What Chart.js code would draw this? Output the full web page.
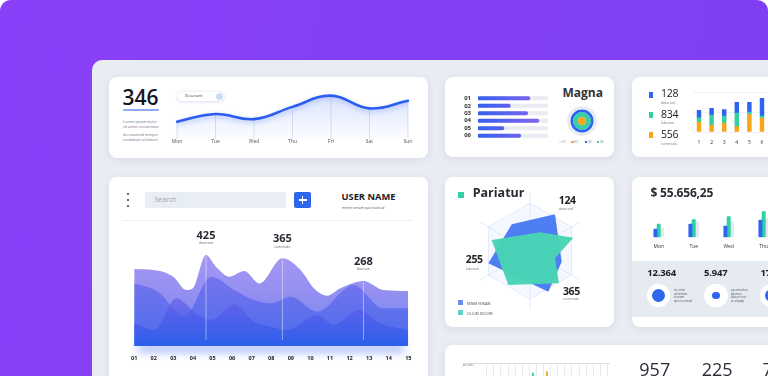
<!DOCTYPE html>
<html><head><meta charset="utf-8">
<script src="https://cdn.jsdelivr.net/npm/chart.js@4.4.1/dist/chart.umd.min.js"></script>
<style>
*{box-sizing:border-box}
html,body{margin:0;padding:0;width:768px;height:376px;overflow:hidden;background:#fff;font-family:"Open Sans",sans-serif;color:#222}
.abs{position:absolute;white-space:nowrap;line-height:1}
#bg{position:absolute;left:0;top:0;width:768px;height:376px;background:linear-gradient(100deg,#8a40f8 0%,#7d3ff2 100%);border-radius:11px 11px 0 0}
#panel{position:absolute;left:92px;top:60px;width:720px;height:360px;background:#e9ecf2;border-radius:10px}
.card{position:absolute;background:#fff;border-radius:8px;box-shadow:0 2px 7px rgba(105,115,160,.13)}
.box{position:absolute}
.tiny{position:absolute;white-space:nowrap;color:#6f7384}
</style></head><body>
<div id="bg"></div>
<div id="panel"></div>

<!-- Card A -->
<div class="card" style="left:109px;top:77px;width:319px;height:81px"></div>
<div class="abs" style="left:122.5px;top:87.3px;font-size:21px;font-weight:600;color:#15151f">346</div>
<div class="abs" style="left:123px;top:108.5px;width:36px;height:2.5px;background:#8ea9f6;border-radius:1px"></div>
<div class="tiny" style="left:123px;top:120.4px;font-size:3.8px;line-height:4.6px">Lorem ipsum dolor<br>sit amet consectetur</div>
<div class="tiny" style="left:123px;top:133.4px;font-size:3.8px;line-height:4.6px">do eiusmod tempor<br>incididunt ut labore</div>
<div class="abs" style="left:177.3px;top:91.7px;width:46.7px;height:9.3px;background:#fff;border-radius:5px;box-shadow:0 0.5px 3px rgba(90,110,200,.3)"></div>
<div class="abs" style="left:185px;top:94.4px;font-size:4px;color:#333">Deserunt</div>
<div class="abs" style="left:216px;top:92.8px;width:7px;height:7px;border-radius:50%;background:#cdd9fb"></div>
<div class="box" style="left:160px;top:85px;width:260px;height:62px"><canvas id="cWeek"></canvas></div>

<!-- Card B -->
<div class="card" style="left:445px;top:77px;width:169px;height:80px"></div>
<div class="abs" style="left:562.5px;top:86.9px;font-size:12px;font-weight:700;color:#333">Magna</div>
<div class="box" style="left:456px;top:84px;width:94px;height:66px"><canvas id="cMagna"></canvas></div>
<div class="box" style="left:566.5px;top:106px;width:30px;height:30px"><canvas id="cRing"></canvas></div>
<div id="ringLegend"></div>

<!-- Card C -->
<div class="card" style="left:632px;top:77px;width:150px;height:80px"></div>
<div class="abs" style="left:648.7px;top:91.7px;width:4.8px;height:6px;background:#2f64ee"></div>
<div class="abs" style="left:648.7px;top:112px;width:4.8px;height:5.8px;background:#33cfa5"></div>
<div class="abs" style="left:648.7px;top:132.2px;width:4.8px;height:5.6px;background:#f8a619"></div>
<div class="abs" style="left:661px;top:88.2px;font-size:10.5px;font-weight:500;letter-spacing:-0.3px;color:#222">128</div>
<div class="abs" style="left:661px;top:109.2px;font-size:10.5px;font-weight:500;letter-spacing:-0.3px;color:#222">834</div>
<div class="abs" style="left:661px;top:129.2px;font-size:10.5px;font-weight:500;letter-spacing:-0.3px;color:#222">556</div>
<div class="tiny" style="left:661px;top:100px;font-size:3.3px">deserunt</div>
<div class="tiny" style="left:661px;top:120.3px;font-size:3.3px">laborum</div>
<div class="tiny" style="left:661px;top:141px;font-size:3.3px">commodo</div>
<div class="box" style="left:686px;top:88px;width:110px;height:70px"><canvas id="cStack"></canvas></div>

<!-- Card D -->
<div class="card" style="left:109px;top:177px;width:319px;height:220px"></div>
<div class="abs" style="left:126.8px;top:193.1px;width:2.4px;height:2.4px;border-radius:50%;background:#333"></div>
<div class="abs" style="left:126.8px;top:198.8px;width:2.4px;height:2.4px;border-radius:50%;background:#333"></div>
<div class="abs" style="left:126.8px;top:204.5px;width:2.4px;height:2.4px;border-radius:50%;background:#333"></div>
<div class="abs" style="left:145px;top:191.7px;width:141px;height:16px;background:#e9edf5;border-radius:1px"></div>
<div class="abs" style="left:154.5px;top:196.2px;font-size:7px;color:#9aa3b5">Search</div>
<div class="abs" style="left:294px;top:191.7px;width:17.3px;height:16.7px;background:#2f66ee;border-radius:2px"></div>
<div class="abs" style="left:298.6px;top:199.3px;width:8px;height:1.5px;background:#fff"></div>
<div class="abs" style="left:301.9px;top:196px;width:1.5px;height:8px;background:#fff"></div>
<div class="abs" style="left:341.5px;top:191.6px;font-size:9.3px;font-weight:700;color:#1d1d28">USER NAME</div>
<div class="tiny" style="left:342px;top:205.3px;font-size:3.3px;color:#555">minim veniam quis nostrud</div>
<div class="abs" style="left:121.7px;top:219.6px;width:291.3px;height:1px;background:#eceff4"></div>
<div class="box" style="left:122px;top:220px;width:300px;height:155px"><canvas id="cWave"></canvas></div>

<!-- Card E -->
<div class="card" style="left:445px;top:177px;width:169px;height:150px"></div>
<div class="abs" style="left:458.3px;top:191.7px;width:5.8px;height:6px;background:#35cfa6"></div>
<div class="abs" style="left:472.7px;top:186.8px;font-size:12.5px;font-weight:700;color:#2a2a35">Pariatur</div>
<div class="box" style="left:470px;top:191px;width:120px;height:120px"><canvas id="cRadar"></canvas></div>
<div class="abs" style="left:558.8px;top:195px;font-size:10.5px;font-weight:700;letter-spacing:-0.4px;color:#222">124</div>
<div class="tiny" style="left:559px;top:206.4px;font-size:3.3px">deserunt</div>
<div class="abs" style="left:465.8px;top:254px;font-size:10.5px;font-weight:700;letter-spacing:-0.4px;color:#222">255</div>
<div class="tiny" style="left:466px;top:265.9px;font-size:3.3px">laborum</div>
<div class="abs" style="left:563px;top:285.6px;font-size:10.5px;font-weight:700;letter-spacing:-0.4px;color:#222">365</div>
<div class="tiny" style="left:563px;top:296px;font-size:3.3px">commodo</div>
<div class="abs" style="left:458.2px;top:300px;width:4.8px;height:5px;background:#6b8cf3"></div>
<div class="tiny" style="left:467px;top:301px;font-size:3.3px;color:#444">MINIM VENIAM</div>
<div class="abs" style="left:458.2px;top:310px;width:4.8px;height:5px;background:#5fd3c2"></div>
<div class="tiny" style="left:467px;top:311px;font-size:3.3px;color:#444">CILLUM DOLORE</div>

<!-- Card F -->
<div class="card" style="left:632px;top:177px;width:150px;height:150px;overflow:hidden">
  <div style="position:absolute;left:0;top:84px;width:150px;height:56px;background:#e6eaf1"></div>
</div>
<div class="abs" style="left:650.5px;top:186.9px;font-size:12px;font-weight:700;letter-spacing:-0.2px;color:#2a2a35">$ 55.656,25</div>
<div class="box" style="left:635px;top:195px;width:150px;height:70px"><canvas id="cSales"></canvas></div>
<div class="abs" style="left:647.3px;top:267.6px;font-size:9.5px;font-weight:700;letter-spacing:-0.2px;color:#1d1d28">12.364</div>
<div class="abs" style="left:704px;top:267.6px;font-size:9.5px;font-weight:700;letter-spacing:-0.2px;color:#1d1d28">5.947</div>
<div class="abs" style="left:760.5px;top:267.6px;font-size:9.5px;font-weight:700;letter-spacing:-0.2px;color:#1d1d28">17.5</div>
<div class="abs" style="left:647px;top:284px;width:23.4px;height:23.4px;border-radius:50%;background:#fff"></div>
<div class="abs" style="left:652px;top:289px;width:13.4px;height:13.4px;border-radius:50%;background:#2f66ee"></div>
<div class="abs" style="left:704.3px;top:284px;width:23.4px;height:23.4px;border-radius:50%;background:#fff"></div>
<div class="abs" style="left:712.2px;top:291.9px;width:7.6px;height:7.6px;border-radius:50%;background:#2f66ee"></div>
<div class="abs" style="left:760.3px;top:284px;width:23.4px;height:23.4px;border-radius:50%;background:#fff"></div>
<div class="abs" style="left:765.3px;top:289px;width:13.4px;height:13.4px;border-radius:50%;background:#2f66ee"></div>
<div class="tiny" style="left:673.7px;top:289.2px;font-size:3.1px;line-height:3.55px;color:#555">ut enim<br>ad minim<br>veniam<br>quis nostrud</div>
<div class="tiny" style="left:730.7px;top:289.2px;font-size:3.1px;line-height:3.55px;color:#555">exercitation<br>ullamco<br>laboris nisi<br>ut aliquip</div>

<!-- Card G -->
<div class="card" style="left:445px;top:345px;width:340px;height:60px"></div>
<div class="tiny" style="left:463px;top:362px;font-size:3.3px;color:#555">60 000</div>
<div class="abs" style="left:463px;top:363.2px;width:147px;height:0.8px;background:#d8dce4"></div>
<div class="box" style="left:480px;top:360px;width:135px;height:40px"><canvas id="cMini"></canvas></div>
<div class="abs" style="left:639.3px;top:359.6px;font-size:18px;font-weight:400;color:#2d2d3a">957</div>
<div class="abs" style="left:701.7px;top:359.6px;font-size:18px;font-weight:400;color:#2d2d3a">225</div>
<div class="abs" style="left:762.5px;top:359.6px;font-size:18px;font-weight:400;color:#2d2d3a">7</div>

<script>
// ---------------- data ----------------
const weekDays = ['Mon','Tue','Wed','Thu','Fri','Sat','Sun'];
const weekTrend = [34, 49, 39, 63, 85, 60, 75];

const magnaRows = ['01','02','03','04','05','06'];
const magnaValues = [74, 46, 71, 87, 37, 61];
const magnaTrack = [100, 100, 100, 100, 100, 100];

const ringLabels = ['01','02','03','04'];
const ringColors = ['#e7ebf4','#f8a81c','#2e63ee','#36cfa7'];
const ringOrder = [0, 2, 3, 1];          // outer -> inner ring shows this label
const ringWidths = [3.3, 2.7, 4.8, 4.2]; // ring thickness weights

const stackCols = ['1','2','3','4','5','6','7'];
const stackCommodo = [10, 7, 9, 5.3, 17.3, 14, 11];
const stackLaborum = [4.3, 10, 7, 13.7, 2.7, 2, 8];
const stackDeserunt = [7.4, 6.7, 6.3, 10.7, 9.7, 17.7, 12];

const waveBackX  = [1, 2, 3, 3.66, 4, 4.67, 5.18, 5.86, 6.62, 7.4, 8.57, 9.5, 10.18, 10.85, 11.53, 12.71, 13.73, 15];
const waveBackY  = [77, 76, 69.3, 56, 57.7, 91, 79.3, 69.3, 75, 62.5, 87.7, 76, 57.7, 50.3, 57.7, 65, 56, 55];
const waveMidX   = [1, 2.22, 3.57, 4.93, 6.11, 7.13, 7.97, 8.99, 10.35, 12.2, 13.73, 15];
const waveMidY   = [62.7, 54.3, 29.3, 69.3, 56, 46, 42.7, 49.3, 34.3, 61, 37.7, 37.7];
const waveFrontX = [1, 2.05, 3.15, 4.25, 4.93, 6.11, 7.13, 7.97, 8.82, 10.35, 11.19, 12.46, 13.56, 15];
const waveFrontY = [22.7, 16, 47.7, 31, 26, 41.7, 24.3, 19.3, 16, 31, 21, 36, 22.7, 16];
const peakX = [4.67, 8.57, 12.71];
const peakValues = ['425', '365', '268'];
const peakNames = ['deserunt', 'commodo', 'laborum'];

const veniamX = [-0.38, 0.52, 0.66, 0.382, -0.868];
const veniamY = [0.556, 0.764, -0.222, -0.847, -0.257];
const cillumX = [-0.799, 0.208, 0.903, 0.521, 0.604, -0.451];
const cillumY = [0.229, 0.389, 0.278, -0.153, -0.674, -0.708];
const hexRings = [1];

const salesDays = ['Mon','Tue','Wed','Thu'];
const salesBlue = [8.3, 13.3, 11.3, 17.3];
const salesGreen = [13.3, 17.7, 20.7, 25.7];
const salesGray = [9.3, 16.3, 15.3, 19];

const miniCols = ['1','2','3','4','5','6','7','8','9','10','11','12','13','14','15','16','17'];
const miniGreen = [null,null,null,null,null,null,44000,null,null,null,null,null,null,null,null,null,null];
const miniOrange = [null,null,null,null,null,null,null,null,46500,null,null,null,null,null,null,null,null];

// ---------------- setup ----------------
Chart.defaults.font.family = "'Open Sans', sans-serif";
Chart.defaults.color = '#333';
Chart.defaults.animation = false;
Chart.defaults.maintainAspectRatio = false;
Chart.defaults.devicePixelRatio = 1;
Chart.defaults.events = [];
Chart.defaults.plugins.legend.display = false;
Chart.defaults.plugins.tooltip.enabled = false;

function vGrad(stops, fallback) {
  return (c) => {
    const {ctx, chartArea} = c.chart;
    if (!chartArea) return fallback;
    const g = ctx.createLinearGradient(0, chartArea.top, 0, chartArea.bottom);
    stops.forEach(([o, col]) => g.addColorStop(o, col));
    return g;
  };
}
function hGrad(stops, fallback) {
  return (c) => {
    const {ctx, chartArea} = c.chart;
    if (!chartArea) return fallback;
    const g = ctx.createLinearGradient(chartArea.left, 0, chartArea.right, 0);
    stops.forEach(([o, col]) => g.addColorStop(o, col));
    return g;
  };
}
const xy = (xs, ys) => xs.map((x, i) => ({x, y: ys[i]}));
const closed = (pts) => pts.concat([pts[0]]);
const noGrid = {display: false, drawTicks: false};

// ---- Card A: weekly line ----
const weekDrop = {
  id: 'weekDrop',
  beforeDatasetsDraw(chart) {
    const {ctx, chartArea} = chart;
    const meta = chart.getDatasetMeta(0);
    ctx.save();
    ctx.strokeStyle = 'rgba(205,214,238,0.9)';
    ctx.lineWidth = 0.8;
    meta.data.forEach((el) => {
      ctx.beginPath(); ctx.moveTo(el.x, el.y); ctx.lineTo(el.x, chartArea.bottom); ctx.stroke();
    });
    ctx.restore();
  }
};
const weekGlow = {
  id: 'weekGlow',
  beforeDatasetDraw(chart) {
    const ctx = chart.ctx; ctx.save();
    ctx.shadowColor = 'rgba(45,95,240,0.35)'; ctx.shadowBlur = 5; ctx.shadowOffsetY = 2;
  },
  afterDatasetDraw(chart) { chart.ctx.restore(); }
};
new Chart(document.getElementById('cWeek'), {
  type: 'line',
  data: {labels: weekDays, datasets: [{
    data: weekTrend, borderColor: '#2b5ef0', borderWidth: 2.6, tension: 0.42, pointRadius: 0,
    fill: 'origin', borderCapStyle: 'round',
    backgroundColor: vGrad([[0, 'rgba(70,115,240,0.22)'], [1, 'rgba(70,115,240,0.02)']], 'rgba(70,115,240,0.1)')
  }]},
  options: {
    layout: {padding: {left: 17, right: 12, top: 3, bottom: 2}},
    scales: {
      x: {grid: noGrid, border: {display: false},
          ticks: {font: {size: 5}, color: '#555', padding: 0, autoSkip: false, maxRotation: 0}},
      y: {display: false, min: 0, max: 100}
    }
  },
  plugins: [weekDrop, weekGlow]
});

// ---- Card B: magna bars ----
new Chart(document.getElementById('cMagna'), {
  type: 'bar',
  data: {labels: magnaRows, datasets: [
    {data: magnaValues, order: 0, grouped: false, barThickness: 3.4, borderRadius: 2, borderSkipped: false,
     backgroundColor: hGrad([[0, '#3461ef'], [0.75, '#7a62f0'], [1, '#8f66f0']], '#4f62ef')},
    {data: magnaTrack, order: 1, grouped: false, barThickness: 3.4, borderRadius: 2, borderSkipped: false,
     backgroundColor: '#e9ecf3'}
  ]},
  options: {
    indexAxis: 'y',
    layout: {padding: {left: 2, right: 2, top: 2.6, bottom: 2.2}},
    scales: {
      x: {display: false, min: 0, max: 100},
      y: {grid: noGrid, border: {display: false},
          ticks: {font: {size: 6, weight: '700'}, color: '#333', padding: 7},
          afterFit(s) { s.width = 20; }}
    }
  }
});

// ---- Card B: magna rings ----
new Chart(document.getElementById('cRing'), {
  type: 'doughnut',
  data: {labels: ringLabels, datasets: ringOrder.map((li, i) => ({
    data: ringLabels.map((_, j) => (j === li ? 1 : 0)),
    backgroundColor: ringColors, borderWidth: 0, weight: ringWidths[i]
  }))},
  options: {cutout: 0, layout: {padding: 0}}
});
(function () {
  const host = document.getElementById('ringLegend');
  const xs = [559.3, 571.3, 584.7, 596.7];
  ringLabels.forEach((lab, i) => {
    const s = document.createElement('div');
    s.className = 'abs';
    s.style.cssText = `left:${xs[i]}px;top:140.9px;width:2.4px;height:2.4px;background:${ringColors[i]}`;
    host.appendChild(s);
    const t = document.createElement('div');
    t.className = 'tiny';
    t.style.cssText = `left:${xs[i] + 3.3}px;top:140.6px;font-size:3px;line-height:3px;color:#777`;
    t.textContent = lab;
    host.appendChild(t);
  });
})();

// ---- Card C: stacked bars ----
new Chart(document.getElementById('cStack'), {
  type: 'bar',
  data: {labels: stackCols, datasets: [
    {data: stackCommodo, backgroundColor: '#f8a619'},
    {data: stackLaborum, backgroundColor: '#33cfa5'},
    {data: stackDeserunt, backgroundColor: '#2f64ee'}
  ]},
  options: {
    layout: {padding: {left: 6.7, right: 15.1, top: 4, bottom: 4}},
    datasets: {bar: {barThickness: 3.8}},
    scales: {
      x: {stacked: true, grid: noGrid, border: {display: false},
          ticks: {font: {size: 5}, color: '#333', padding: 8, autoSkip: false, maxRotation: 0}},
      y: {stacked: true, min: 0, max: 40, border: {display: false},
          grid: {color: '#eef2fb', drawTicks: false}, ticks: {display: false, stepSize: 20},
          afterFit(s) { s.width = 0; }}
    }
  }
});

// ---- Card D: waves ----
const waveGlow = {
  id: 'waveGlow',
  beforeDatasetsDraw(chart) {
    const {ctx, chartArea: a} = chart;
    ctx.save();
    ctx.shadowColor = 'rgba(55,95,240,0.75)'; ctx.shadowBlur = 10; ctx.shadowOffsetY = 5;
    ctx.fillStyle = 'rgba(55,95,240,0.9)';
    ctx.fillRect(a.left + 4, a.bottom - 5, a.right - a.left - 8, 5);
    ctx.restore();
  }
};
const wavePeaks = {
  id: 'wavePeaks',
  afterDatasetsDraw(chart) {
    const {ctx} = chart;
    const yS = chart.scales.y;
    const meta = chart.getDatasetMeta(0);
    ctx.save();
    peakX.forEach((px, i) => {
      const idx = waveBackX.indexOf(px);
      const el = meta.data[idx];
      ctx.strokeStyle = 'rgba(255,255,255,0.5)';
      ctx.lineWidth = 0.9;
      ctx.beginPath(); ctx.moveTo(el.x, el.y + 1); ctx.lineTo(el.x, yS.getPixelForValue(6)); ctx.stroke();
      ctx.textAlign = 'center'; ctx.textBaseline = 'middle';
      ctx.fillStyle = '#2a2a35';
      ctx.font = "700 11px 'Open Sans'";
      ctx.fillText(peakValues[i], el.x, el.y - 19.5);
      ctx.fillStyle = '#666';
      ctx.font = "3.4px 'Open Sans'";
      ctx.fillText(peakNames[i], el.x, el.y - 11.5);
    });
    ctx.restore();
  }
};
new Chart(document.getElementById('cWave'), {
  type: 'line',
  data: {datasets: [
    {data: xy(waveBackX, waveBackY), order: 3, fill: 'origin',
     backgroundColor: vGrad([[0, '#a898f3'], [0.45, '#9590f1'], [1, '#6a84ef']], '#9a90f2')},
    {data: xy(waveMidX, waveMidY), order: 2, fill: 'origin',
     backgroundColor: vGrad([[0, 'rgba(105,92,232,0.55)'], [1, 'rgba(60,100,236,0.7)']], 'rgba(90,95,235,0.6)')},
    {data: xy(waveFrontX, waveFrontY), order: 1, fill: 'origin',
     backgroundColor: vGrad([[0, 'rgba(120,80,230,0.6)'], [0.55, 'rgba(95,88,232,0.6)'], [1, 'rgba(40,95,236,0.92)']], 'rgba(90,90,232,0.6)')}
  ]},
  options: {
    layout: {padding: {left: 10.7, right: 13.7, top: 26, bottom: 4.4}},
    elements: {line: {cubicInterpolationMode: 'monotone', borderWidth: 0}, point: {radius: 0}},
    scales: {
      x: {type: 'linear', min: 1, max: 15, grid: noGrid, border: {display: false},
          ticks: {stepSize: 1, padding: 9, font: {size: 5.5, weight: '700'}, color: '#222',
                  callback: (v) => String(v).padStart(2, '0')}},
      y: {display: false, min: 0, max: 100}
    }
  },
  plugins: [waveGlow, wavePeaks]
});

// ---- Card E: radar-like polygons ----
const hexGrid = {
  id: 'hexGrid',
  beforeDatasetsDraw(chart) {
    const {ctx, scales: {x, y}} = chart;
    const P = (r, a) => [x.getPixelForValue(r * Math.cos(a)), y.getPixelForValue(r * Math.sin(a))];
    ctx.save();
    ctx.strokeStyle = '#dbe4fb'; ctx.lineWidth = 0.8;
    hexRings.forEach((r) => {
      ctx.beginPath();
      for (let k = 0; k <= 6; k++) {
        const [px, py] = P(r, Math.PI / 2 + k * Math.PI / 3);
        k ? ctx.lineTo(px, py) : ctx.moveTo(px, py);
      }
      ctx.fillStyle = 'rgba(240,244,255,0.6)';
      ctx.fill();
      ctx.stroke();
    });
    for (let k = 0; k < 6; k++) {
      const [cx, cy] = P(0, 0);
      const [px, py] = P(1.2, Math.PI / 2 + k * Math.PI / 3);
      ctx.beginPath(); ctx.moveTo(cx, cy); ctx.lineTo(px, py); ctx.stroke();
    }
    ctx.restore();
  }
};
new Chart(document.getElementById('cRadar'), {
  type: 'scatter',
  data: {datasets: [
    {label: 'MINIM VENIAM', data: closed(xy(veniamX, veniamY)), order: 2, showLine: true, fill: 'shape',
     backgroundColor: '#4f7df2', borderWidth: 0, pointRadius: 0, tension: 0},
    {label: 'CILLUM DOLORE', data: closed(xy(cillumX, cillumY)), order: 1, showLine: true, fill: 'shape',
     backgroundColor: 'rgba(72,212,180,0.97)', borderWidth: 0, pointRadius: 0, tension: 0}
  ]},
  options: {
    layout: {padding: 0},
    scales: {x: {display: false, min: -1.25, max: 1.25}, y: {display: false, min: -1.25, max: 1.25}}
  },
  plugins: [hexGrid]
});

// ---- Card F: grouped bars ----
new Chart(document.getElementById('cSales'), {
  type: 'bar',
  data: {labels: salesDays, datasets: [
    {data: salesBlue, backgroundColor: '#2f64ee'},
    {data: salesGreen, backgroundColor: '#2ed0a4'},
    {data: salesGray, backgroundColor: '#e3e8f1'}
  ]},
  options: {
    layout: {padding: {left: 6.2, right: 3.8, top: 2.3, bottom: 8.3}},
    datasets: {bar: {barThickness: 3.3, categoryPercentage: 0.514, borderRadius: 0.8}},
    scales: {
      x: {grid: noGrid, border: {display: false},
          ticks: {font: {size: 5}, color: '#333', padding: 6.7, autoSkip: false, maxRotation: 0}},
      y: {display: false, min: 0, max: 40}
    }
  }
});

// ---- Card G: mini bars ----
new Chart(document.getElementById('cMini'), {
  type: 'bar',
  data: {labels: miniCols, datasets: [
    {data: miniGreen, backgroundColor: '#33cfa5', grouped: false, barThickness: 1.2},
    {data: miniOrange, backgroundColor: '#f8a619', grouped: false, barThickness: 1.2}
  ]},
  options: {
    layout: {padding: {left: 6.7, right: 7.6, top: 3.3, bottom: 0}},
    scales: {
      x: {grid: {color: '#dfe3ea', lineWidth: 0.8, drawTicks: false, offset: true}, border: {display: false},
          ticks: {display: false}},
      y: {display: false, min: 0, max: 60000}
    }
  }
});
</script>
</body></html>
